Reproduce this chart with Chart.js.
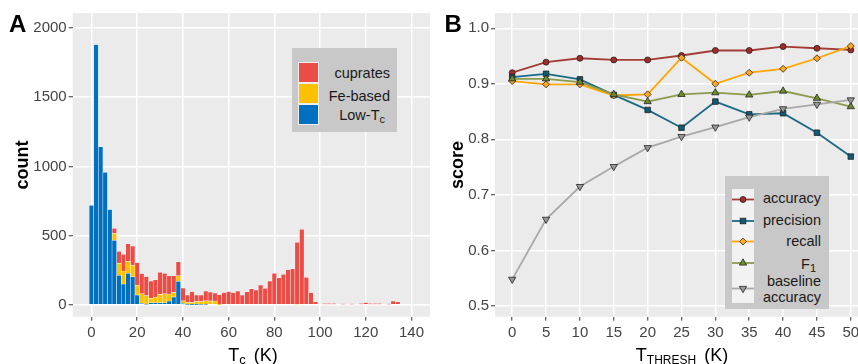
<!DOCTYPE html>
<html><head><meta charset="utf-8">
<script src="https://cdn.jsdelivr.net/npm/chart.js@4.4.1/dist/chart.umd.min.js"></script>
<style>
html,body{margin:0;padding:0;background:#fff;}
body{width:858px;height:364px;overflow:hidden;position:relative;font-family:"Liberation Sans",Arial,sans-serif;}
canvas{position:absolute;top:0;}
.t{position:absolute;white-space:nowrap;color:#000;}
.lg{position:absolute;white-space:nowrap;color:#1a1a1a;font-size:14.5px;line-height:18px;text-align:right;}
.key{position:absolute;width:21px;height:21px;box-sizing:border-box;border:1px solid #eeeeee;}
</style></head><body>
<canvas id="ca" width="440" height="364" style="left:0"></canvas>
<canvas id="cb" width="433" height="364" style="left:440px"></canvas>

<div class="t" style="left:9px;top:11.7px;font-size:24px;line-height:24px;font-weight:bold;">A</div>
<div class="t" style="left:444.5px;top:11.7px;font-size:24px;line-height:24px;font-weight:bold;">B</div>
<div class="t" style="left:22px;top:165px;font-size:18px;line-height:20px;font-weight:bold;transform:translate(-50%,-50%) rotate(-90deg);">count</div>
<div class="t" style="left:457px;top:165px;font-size:18px;line-height:20px;font-weight:bold;transform:translate(-50%,-50%) rotate(-90deg);">score</div>
<div class="t" style="left:253px;top:344.5px;font-size:18px;line-height:20px;transform:translateX(-50%);">T<span style="font-size:13px;position:relative;top:3px;margin-right:3px;">c</span> (K)</div>
<div class="t" style="left:682px;top:344.5px;font-size:18px;line-height:20px;transform:translateX(-50%);">T<span style="font-size:12px;position:relative;top:3px;margin-right:3px;">THRESH</span> (K)</div>

<div style="position:absolute;left:291.7px;top:48.3px;width:105.6px;height:83.4px;background:#C8C8C8;"></div>
<div class="key" style="left:298px;top:62px;background:#EC4C46;"></div>
<div class="key" style="left:298px;top:83px;background:#FFC000;"></div>
<div class="key" style="left:298px;top:104px;background:#0070C0;"></div>
<div class="lg" style="right:468px;top:64.3px;">cuprates</div>
<div class="lg" style="right:468px;top:86.7px;">Fe-based</div>
<div class="lg" style="right:473px;top:106px;">Low-T<span style="font-size:11px;position:relative;top:3px;">c</span></div>

<div style="position:absolute;left:725px;top:176px;width:104px;height:133.3px;background:#C8C8C8;"></div>
<svg style="position:absolute;left:731.7px;top:189px;" width="22" height="114">
<rect width="22" height="114" fill="#F2F2F2"/>
<line x1="0" y1="10.5" x2="22" y2="10.5" stroke="#A43C36" stroke-width="1.8"/>
<circle cx="11" cy="10.5" r="3" fill="#A52A2A" stroke="#222" stroke-width="0.8"/>
<line x1="0" y1="32" x2="22" y2="32" stroke="#1B6A85" stroke-width="1.8"/>
<rect x="8.2" y="29.2" width="5.6" height="5.6" fill="#0F5C78" stroke="#222" stroke-width="0.8"/>
<line x1="0" y1="52.5" x2="22" y2="52.5" stroke="#FFA500" stroke-width="1.8"/>
<polygon points="11,49 14.5,52.5 11,56 7.5,52.5" fill="#FFA820" stroke="#333" stroke-width="0.8"/>
<line x1="0" y1="74" x2="22" y2="74" stroke="#8B9A4B" stroke-width="1.8"/>
<polygon points="11,69.8 14.64,76.1 7.36,76.1" fill="#6E8B2E" stroke="#222" stroke-width="0.8"/>
<line x1="0" y1="99.5" x2="22" y2="99.5" stroke="#A8A8A8" stroke-width="1.8"/>
<polygon points="11,103.7 14.64,97.4 7.36,97.4" fill="#999999" stroke="#222" stroke-width="0.8"/>
</svg>
<div class="lg" style="right:37px;top:189px;">accuracy</div>
<div class="lg" style="right:37px;top:210.8px;">precision</div>
<div class="lg" style="right:37px;top:231.5px;">recall</div>
<div class="lg" style="right:42px;top:254.7px;">F<span style="font-size:11px;position:relative;top:3px;">1</span></div>
<div class="lg" style="right:37px;top:272.5px;line-height:16px;">baseline<br>accuracy</div>

<script>
// ---------- Panel A data (histogram, 2 K bins) ----------
const tcBins = [0,2,4,6,8,10,12,14,16,18,20,22,24,26,28,30,32,34,36,38,40,42,44,46,48,50,52,54,56,58,60,62,64,66,68,70,72,74,76,78,80,82,84,86,88,90,92,94,96,98,100,102,104,106,108,110,112,114,116,118,120,122,124,126,128,130,132,134];
const lowTc   = [720,1880,1142,958,688,467,214,151,229,203,72,12,5,15,15,15,15,28,58,171,10,4,3,3,2,2,0,0,0,0,0,0,0,0,0,0,0,0,0,0,0,0,0,0,0,0,0,0,0,0,0,0,0,0,0,0,0,0,0,0,0,0,0,0,0,0,0,0];
const feBased = [0,0,0,0,0,48,87,94,84,84,70,68,62,33,40,61,65,50,32,39,20,13,14,24,22,28,29,28,3,0,0,0,0,0,0,0,0,0,0,0,0,0,0,0,0,6,0,0,0,0,0,0,0,0,0,0,0,0,0,0,0,0,0,0,0,0,0,0];
const cuprates= [0,0,0,0,0,39,87,121,128,139,165,146,138,125,126,160,149,132,120,102,93,55,79,45,48,71,65,58,70,89,96,89,101,72,95,117,108,143,120,173,228,196,222,254,261,447,547,200,89,23,0,10,10,10,0,8,0,8,0,10,18,10,10,10,0,8,28,22];
const xTicksA = [0,20,40,60,80,100,120,140];
const yTicksA = [0,500,1000,1500,2000];

// ---------- Panel B data ----------
const thresholds = [0,5,10,15,20,25,30,35,40,45,50];
const accuracy  = [0.920,0.939,0.946,0.943,0.943,0.951,0.960,0.960,0.967,0.964,0.961];
const precision = [0.912,0.918,0.908,0.880,0.853,0.821,0.868,0.845,0.847,0.812,0.769];
const recall    = [0.905,0.899,0.899,0.879,0.881,0.947,0.900,0.920,0.927,0.946,0.968];
const f1score   = [0.909,0.909,0.903,0.881,0.868,0.881,0.884,0.880,0.887,0.874,0.859];
const baseline  = [0.548,0.656,0.715,0.751,0.785,0.805,0.822,0.840,0.855,0.863,0.871];
const xTicksB = [0,5,10,15,20,25,30,35,40,45,50];
const yTicksB = [0.5,0.6,0.7,0.8,0.9,1.0];

const FONT = '"Liberation Sans", Arial, sans-serif';
const panelBg = {id:'panelBg', beforeDraw(chart){
  const {ctx, chartArea:a} = chart;
  ctx.save(); ctx.fillStyle = '#EBEBEB';
  ctx.fillRect(a.left, a.top, a.right-a.left, a.bottom-a.top);
  ctx.restore();
}};

function axis(min, max, ticks, fmt, fit, horiz){
  return {
    type:'linear', min:min, max:max, offset:false,
    afterBuildTicks: s => { s.ticks = ticks.map(v => ({value:v})); },
    afterFit: s => { if (horiz) s.height = fit; else s.width = fit; },
    grid:{color:'#FFFFFF', lineWidth:1.5, tickColor:'#333333', tickLength:4, tickWidth:1, offset:false, drawOnChartArea:true},
    border:{display:false},
    ticks:{color:'#444444', font:{size:15, family:FONT}, padding: horiz ? 3 : 2, autoSkip:false, maxRotation:0, minRotation:0, callback: fmt}
  };
}

const mk = arr => tcBins.map((x,i) => ({x:x, y: arr[i] ? arr[i] : null}));
const barDs = (label, arr, color) => ({label, data: mk(arr), backgroundColor: color, borderColor:'#FFFFFF', borderWidth:0.5, borderSkipped:false, barPercentage:1, categoryPercentage:1});

const xA = axis(-8.22, 148.1, xTicksA, v => String(v), 47.3, true); xA.stacked = true;
const yA = axis(-84.5, 2108, yTicksA, v => String(v), 72.7, false); yA.stacked = true;

new Chart(document.getElementById('ca'), {
  type:'bar',
  data:{datasets:[
    barDs('Low-Tc', lowTc, '#0070C0'),
    barDs('Fe-based', feBased, '#FFC000'),
    barDs('cuprates', cuprates, '#EC4C46')
  ]},
  options:{
    responsive:false, animation:false, devicePixelRatio:1,
    layout:{padding:{left:0, top:13, right:10, bottom:0}},
    plugins:{legend:{display:false}, tooltip:{enabled:false}},
    scales:{x:xA, y:yA}
  },
  plugins:[panelBg]
});

const lineDs = (label, arr, line, fill, style, r, rot, order) => ({
  label, data: thresholds.map((x,i) => ({x:x, y:arr[i]})),
  borderColor: line, backgroundColor: fill, borderWidth:1.8, tension:0,
  pointStyle: style, pointRadius: r, pointRotation: rot,
  pointBackgroundColor: fill, pointBorderColor:'#222222', pointBorderWidth:0.8, order: order
});

new Chart(document.getElementById('cb'), {
  type:'line',
  data:{datasets:[
    lineDs('accuracy', accuracy, '#A43C36', '#A52A2A', 'circle', 3, 0, 5),
    lineDs('precision', precision, '#1B6A85', '#0F5C78', 'rect', 3.9, 0, 4),
    lineDs('recall', recall, '#FFA500', '#FFA820', 'rectRot', 3.5, 0, 3),
    lineDs('F1', f1score, '#8B9A4B', '#6E8B2E', 'triangle', 4.2, 0, 2),
    lineDs('baseline accuracy', baseline, '#A8A8A8', '#999999', 'triangle', 4.2, 180, 1)
  ]},
  options:{
    responsive:false, animation:false, devicePixelRatio:1,
    layout:{padding:{left:0, top:13, right:2.4, bottom:0}},
    plugins:{legend:{display:false}, tooltip:{enabled:false}},
    scales:{
      x: axis(-2.54, 52.54, xTicksB, v => String(v), 47.3, true),
      y: axis(0.4807, 1.0275, yTicksB, v => v.toFixed(1), 55, false)
    }
  },
  plugins:[panelBg]
});
</script>
</body></html>
